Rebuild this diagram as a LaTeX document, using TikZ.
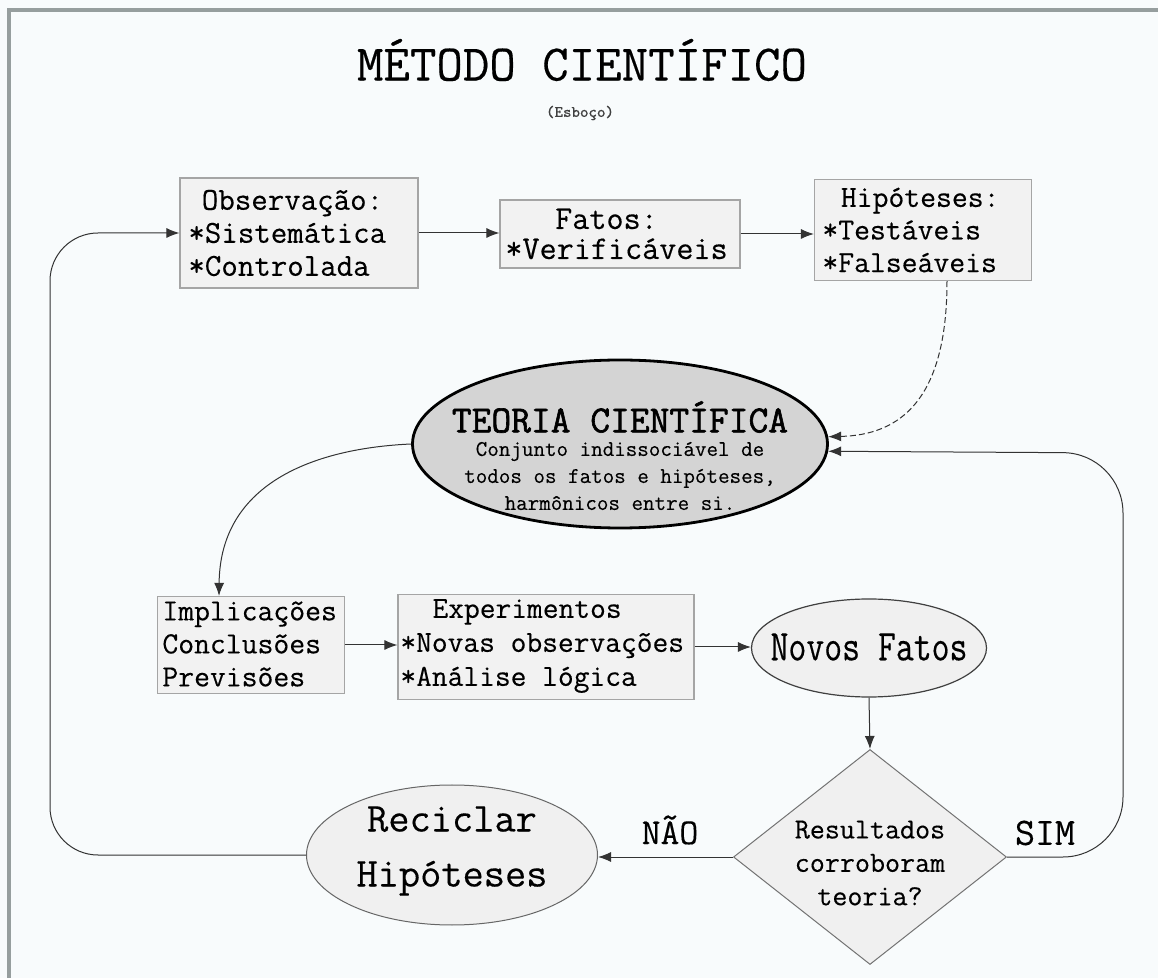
\documentclass[tikz,border=0pt]{standalone}
\usepackage{fontspec}
\setmainfont[FakeBold=0.3]{Latin Modern Mono}
\newfontfamily\headfont[FakeBold=1.6]{Latin Modern Mono}
\newfontfamily\condmono[FakeStretch=0.79,FakeBold=0.3]{Latin Modern Mono}
\usetikzlibrary{shapes.geometric,arrows.meta,calc}
\definecolor{bg}{RGB}{248,251,252}
\definecolor{boxfill}{RGB}{242,242,242}
\definecolor{boxline}{RGB}{165,165,165}
\definecolor{teofill}{RGB}{212,212,212}
\definecolor{ovalfill}{RGB}{240,240,240}
\definecolor{framecol}{RGB}{150,158,158}
\begin{document}
\begin{tikzpicture}[x=0.5pt,y=-0.5pt,
  boxst/.style={draw=boxline, fill=boxfill, line width=0.6pt, inner sep=0pt, rectangle},
  txt/.style={inner sep=0pt, align=left, anchor=west},
  plain/.style={inner sep=0pt},
  arr/.style={-{Latex[length=6.5pt,width=5pt]}, line width=0.5pt, draw=black!80, fill=none},
  oval/.style={ellipse, fill=ovalfill, inner sep=0pt}
]
\path[use as bounding box, fill=bg] (0,0) rectangle (1158,978);
\draw[framecol, line width=1.6pt] (9,978) -- (9,10) -- (1158,10);

% title
\node[plain, font=\fontsize{25.7}{27}\selectfont] (title) at (582,60) {MÉTODO CIENTÍFICO};
\node[plain, font=\fontsize{8}{9}\selectfont, text=black!75] (sub) at (580,113) {(Esboço)};

% top row
\node[boxst, minimum width=119pt, minimum height=55pt] (obs) at (299,233) {};
\node[txt, font=\fontsize{16}{16.5}\selectfont] (obsT) at (188,233) {\hspace{0.42em}Observação:\\{}*Sistemática\\{}*Controlada};

\node[boxst, minimum width=120pt, minimum height=34pt] (fat) at (620,234) {};
\node[txt, font=\fontsize{16.6}{15}\selectfont] (fatT) at (505,234) {\hspace{1.5em}Fatos:\\{}*Verificáveis};

\node[boxst, minimum width=108.5pt, minimum height=50.5pt] (hip) at (923,230) {};
\node[txt, font=\fontsize{15.4}{16.3}\selectfont] (hipT) at (822,230) {\hspace{0.6em}Hipóteses:\\{}*Testáveis\\{}*Falseáveis};

% theory
\node[ellipse, draw=black, line width=1.4pt, fill=teofill, minimum width=207.5pt, minimum height=84pt, inner sep=0pt] (teo) at (620,444) {};
\node[plain, font=\headfont\fontsize{19.2}{20}\selectfont] (teoT) at (620,417) {TEORIA CIENTÍFICA};
\node[plain, align=center, font=\fontsize{11.2}{13.5}\selectfont] (teoS) at (620,476) {Conjunto indissociável de\\todos os fatos e hipóteses,\\harmônicos entre si.};

% middle row
\node[boxst, minimum width=93.5pt, minimum height=48.5pt] (imp) at (251,645) {};
\node[txt, font=\fontsize{15.4}{16.5}\selectfont] (impT) at (162,644) {Implicações\\Conclusões\\Previsões};

\node[boxst, minimum width=148pt, minimum height=52.5pt] (exp) at (546,647) {};
\node[txt, font=\fontsize{15.3}{17}\selectfont] (expT) at (400,646) {\hspace{1.05em}Experimentos\\{}*Novas observações\\{}*Análise lógica};

\node[oval, draw=black!75, line width=0.6pt, minimum width=117.5pt, minimum height=49pt] (nov) at (869,648) {};
\node[plain, font=\condmono\fontsize{22}{24}\selectfont] (novT) at (869,647) {Novos Fatos};

% decision
\node[diamond, draw=black!55, line width=0.5pt, fill=ovalfill, minimum width=136.5pt, minimum height=107.5pt, inner sep=0pt] (dia) at (870,857) {};
\node[plain, align=center, font=\fontsize{14.6}{16.7}\selectfont] (diaT) at (870,863) {Resultados\\corroboram\\teoria?};

\node[oval, draw=black!60, line width=0.5pt, minimum width=145.5pt, minimum height=70pt] (rec) at (452,855) {};
\node[plain, align=center, font=\fontsize{20.6}{27.5}\selectfont] (recT) at (452,851) {Reciclar\\Hipóteses};

\node[plain, font=\fontsize{18.3}{19}\selectfont] (nao) at (670,830) {NÃO};
\node[plain, font=\fontsize{19.4}{20}\selectfont] (sim) at (1045,833) {SIM};

% connectors
\draw[arr] (obs.east) -- (obs.east -| fat.west);
\draw[arr] (fat.east) -- (fat.east -| hip.west);
\draw[arr, dash pattern=on 3pt off 1.5pt] ($(hip.south)+(24,0)$) .. controls (947,400) and (900,435) .. (teo.2.5);
\draw[arr] (teo.west) .. controls (320,448) and (220,480) .. ($(imp.north west)!0.33!(imp.north east)$);
\draw[arr] (imp.east) -- (imp.east -| exp.west);
\draw[arr] (exp.east) -- (exp.east -| nov.west);
\draw[arr] (nov.south) -- (dia.north);
\draw[arr] (dia.west) -- (dia.west -| rec.east);
\draw[arr, rounded corners=24pt] (rec.west) -- (50,855) -- (50,233) -- (obs.west);
\draw[arr, rounded corners=30pt] (dia.east) -- (1123,857) -- (1123,453) -- (teo.-2.5);
\end{tikzpicture}
\end{document}
